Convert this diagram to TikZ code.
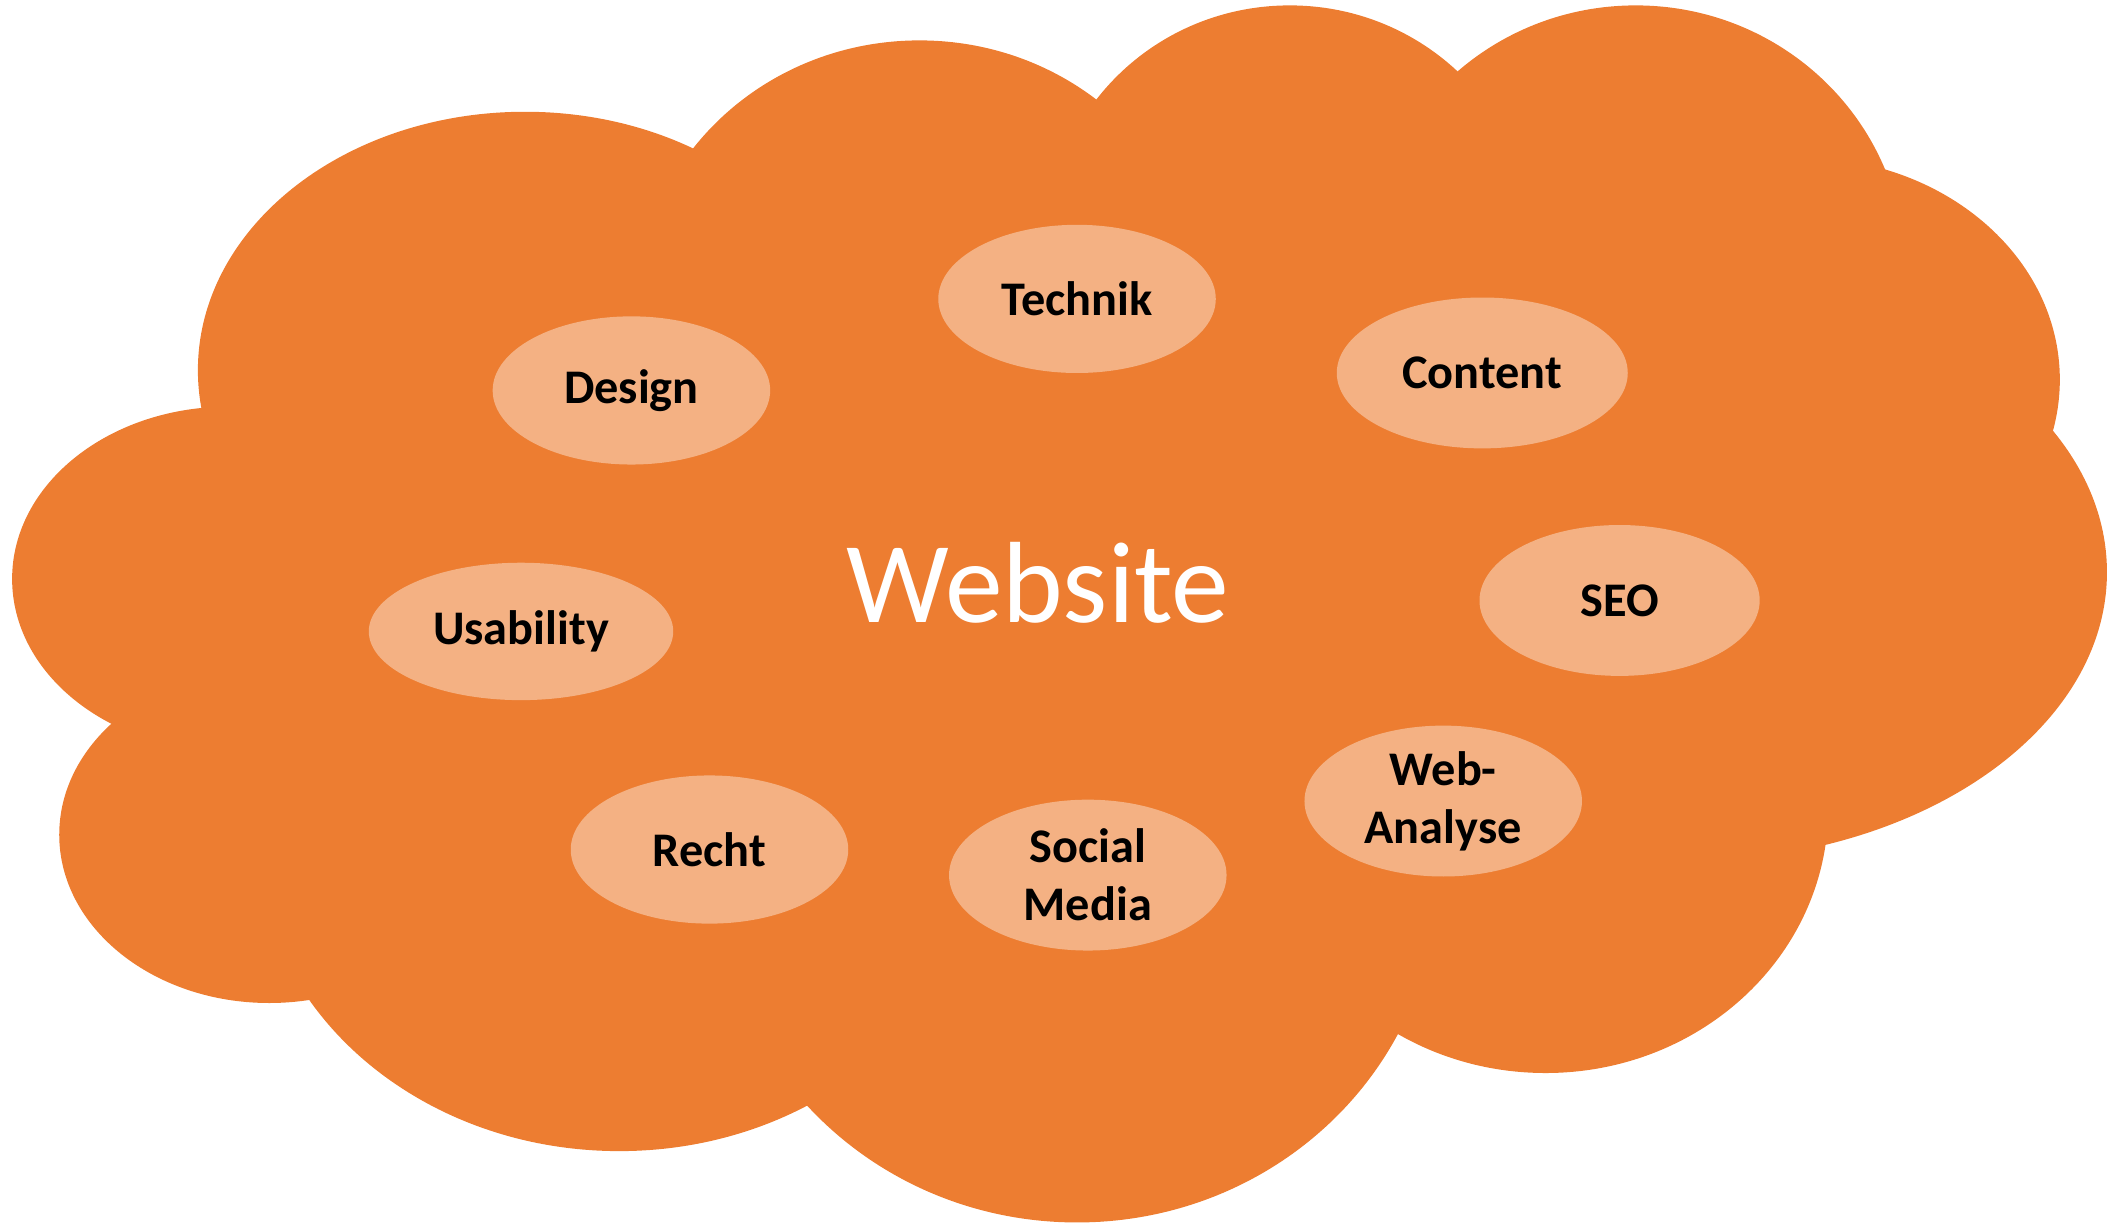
\documentclass[tikz,border=0pt]{standalone}
\usepackage{fontspec}
\setmainfont{Carlito}
\usetikzlibrary{shapes.geometric}
\definecolor{cloudorange}{HTML}{ED7D31}
\definecolor{lightorange}{HTML}{F4B183}
\tikzset{
  lobe/.style={fill=cloudorange},
  topic/.style={ellipse, fill=lightorange, inner sep=0pt, align=center,
    font=\fontsize{10.2}{12.2}\selectfont\bfseries, text=black},
  title/.style={font=\fontsize{24.4}{28}\selectfont, text=white, inner sep=0pt}
}
\begin{document}
\begin{tikzpicture}[x=0.01cm,y=-0.01cm]
\useasboundingbox (0,0) rectangle (1568,908);
% cloud lobes
\fill[lobe] (390,275) ellipse [x radius=243, y radius=192];
\fill[lobe] (683,230) ellipse [x radius=210, y radius=200];
\fill[lobe] (958,180) ellipse [x radius=180, y radius=176];
\fill[lobe] (1215,200) ellipse [x radius=200, y radius=196];
\fill[lobe] (1338,282) ellipse [x radius=192, y radius=165];
\fill[lobe] (1250,425) ellipse [x radius=315, y radius=215];
\fill[lobe] (1148,600) ellipse [x radius=210, y radius=197];
\fill[lobe] (800,650) ellipse [x radius=268, y radius=258];
\fill[lobe] (460,620) ellipse [x radius=270, y radius=235];
\fill[lobe] (200,620) ellipse [x radius=156, y radius=125];
\fill[lobe] (170,430) ellipse [x radius=161, y radius=128];
\fill[lobe] (260,260) rectangle (1340,640);
% title
\node[title] (website) at (771,433) {Website};
% topics
\node[topic, minimum width=2.06cm, minimum height=1.10cm] (technik) at (800,222) {Technik};
\node[topic, minimum width=2.06cm, minimum height=1.10cm] (design) at (469,290) {Design};
\node[topic, minimum width=2.16cm, minimum height=1.12cm] (content) at (1101,277) {Content};
\node[topic, minimum width=2.26cm, minimum height=1.02cm] (usability) at (387,469) {Usability};
\node[topic, minimum width=2.08cm, minimum height=1.12cm] (seo) at (1203,446) {SEO};
\node[topic, minimum width=2.06cm, minimum height=1.12cm] (webanalyse) at (1072,595) {Web-\\Analyse};
\node[topic, minimum width=2.06cm, minimum height=1.12cm] (social) at (808,650) {Social\\Media};
\node[topic, minimum width=2.06cm, minimum height=1.10cm] (recht) at (527,631) {Recht};
\end{tikzpicture}
\end{document}
